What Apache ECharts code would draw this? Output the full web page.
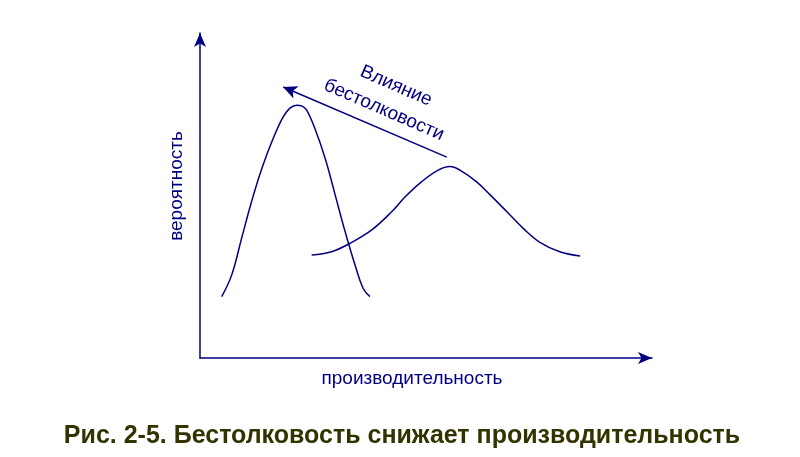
<!DOCTYPE html>
<html><head><meta charset="utf-8">
<script src="https://cdn.jsdelivr.net/npm/echarts@6/dist/echarts.min.js"></script>
<style>html,body{margin:0;padding:0;background:#fff}#c{width:800px;height:457px}</style>
</head><body><div id="c"></div>
<script>
// Curve 1: distribution with the effect (high narrow peak, low productivity) [x, y]
const curveBefore = [[4.8,18.9],[7.0,25.5],[9.2,36.8],[11.4,48.1],[13.7,58.4],[16.2,67.6],[18.4,74.2],[19.9,76.9],[21.4,77.8],[22.6,77.5],[23.6,76.3],[25.4,70.7],[27.7,61.4],[29.9,50.2],[32.1,38.9],[34.3,28.6],[36.1,21.4],[37.6,18.9]];
// Curve 2: distribution without the effect (lower, wider, shifted right)
const curveAfter = [[24.7,31.7],[29.1,32.7],[33.2,35.3],[38.0,39.4],[42.4,45.0],[45.4,49.6],[49.0,54.2],[52.7,57.8],[55.3,58.9],[57.5,57.8],[61.2,54.2],[64.2,50.2],[67.9,45.0],[71.5,39.9],[75.2,35.6],[79.6,32.7],[84.1,31.4]];
// Arrow "Влияние бестолковости": from -> to
const effectArrow = [[54.6,61.8],[18.4,83.4]];
const xAxisName = 'производительность';
const yAxisName = 'вероятность';
const arrowText = ['Влияние','бестолковости'];
const titleText = 'Рис. 2-5. Бестолковость снижает производительность';

const navy = '#000080';
const chart = echarts.init(document.getElementById('c'));
chart.setOption({
  animation:false,
  grid:{left:200,right:148,top:33,bottom:99},
  xAxis:{type:'value',min:0,max:100,
    axisLine:{show:true,onZero:false,symbol:['none','arrow'],symbolSize:[9,14],lineStyle:{color:navy,width:1.5}},
    axisTick:{show:false},axisLabel:{show:false},splitLine:{show:false}},
  yAxis:{type:'value',min:0,max:100,
    axisLine:{show:true,onZero:false,symbol:['none','arrow'],symbolSize:[9,14],lineStyle:{color:navy,width:1.5}},
    axisTick:{show:false},axisLabel:{show:false},splitLine:{show:false}},
  series:[
    {type:'line',data:curveBefore,smooth:0.4,showSymbol:false,lineStyle:{color:navy,width:1.5},
      markLine:{silent:true,symbol:['none','arrow'],symbolSize:[10,14],label:{show:false},
        lineStyle:{color:navy,width:1.5,type:'solid'},
        data:[[{coord:effectArrow[0]},{coord:effectArrow[1]}]]}},
    {type:'line',data:curveAfter,smooth:0.4,showSymbol:false,lineStyle:{color:navy,width:1.5}}
  ],
  graphic:[
    {type:'text',x:412,y:379,style:{text:xAxisName,fill:navy,font:'19px "Liberation Sans", Arial',align:'center',verticalAlign:'middle'}},
    {type:'text',x:177,y:186,rotation:Math.PI/2,style:{text:yAxisName,fill:navy,font:'19px "Liberation Sans", Arial',align:'center',verticalAlign:'middle'}},
    {type:'text',x:396,y:86,rotation:-0.41,style:{text:arrowText[0],fill:navy,font:'19px "Liberation Sans", Arial',align:'center',verticalAlign:'middle'}},
    {type:'text',x:384,y:110,rotation:-0.41,style:{text:arrowText[1],fill:navy,font:'19px "Liberation Sans", Arial',align:'center',verticalAlign:'middle'}},
    {type:'text',x:402,y:436,style:{text:titleText,fill:'#333300',font:'bold 25px "Liberation Sans", Arial',align:'center',verticalAlign:'middle'}}
  ]
});
</script></body></html>
